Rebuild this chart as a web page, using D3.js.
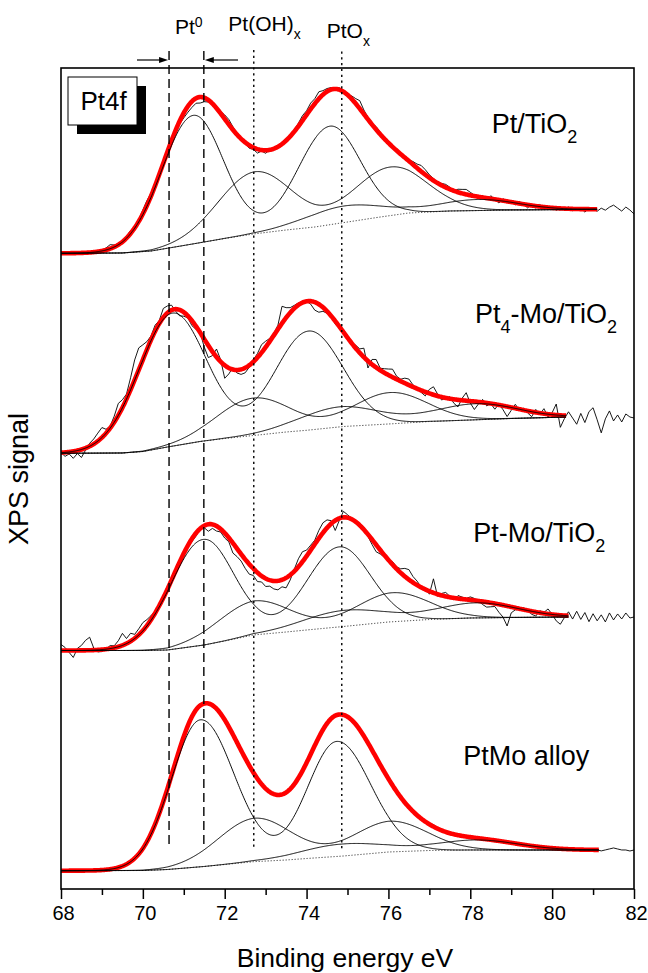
<!DOCTYPE html>
<html><head><meta charset="utf-8">
<script src="https://cdn.jsdelivr.net/npm/d3@7/dist/d3.min.js"></script>
<style>
html,body{margin:0;padding:0;background:#fff;}
svg text{font-family:Arial,"Liberation Sans",Helvetica,sans-serif;fill:#000;}
</style></head><body>
<svg id="chart" width="648" height="973"></svg>
<script>
// ---------------- data ----------------
const xTickValues = [68, 70, 72, 74, 76, 78, 80, 82];
const xMinorTicks = [69, 71, 73, 75, 77, 79, 81];
const sampleNames = ["Pt/TiO2", "Pt4-Mo/TiO2", "Pt-Mo/TiO2", "PtMo alloy"];
const componentNames = ["Pt0", "Pt(OH)x", "PtOx"];
const markerEnergies = [70.64, 71.49, 72.71, 74.86];   // eV
const markerKinds = ["dash", "dash", "dot", "dot"];
const fitEnd = [81.1, 80.35, 80.4, 81.15];             // eV, end of fitted envelope
const rawStart = 68.0, rawStep = 0.1;                   // eV, measurement grid

// Shirley-type backgrounds (energy eV, intensity a.u.)
const bgE_PtTiO2 = [68.0, 69.5, 70.2, 71.0, 71.5, 72.0, 72.7, 73.5, 74.2, 75.0, 75.8, 76.5, 77.5, 79.0, 82.0];
const bgI_PtTiO2 = [635.7, 636, 638, 643.5, 647, 650.5, 655, 659, 662, 667, 672, 676, 678, 679, 680];
const bgE_Pt4Mo = [68.0, 69.5, 70.0, 70.6, 71.4, 72.0, 72.7, 73.5, 74.0, 74.9, 76.0, 77.0, 78.0, 79.0, 80.4, 82.0];
const bgI_Pt4Mo = [435.7, 436, 437.5, 442, 447.5, 450.5, 453.5, 457, 458.7, 462.5, 465, 467.5, 469, 470.5, 472, 472];
const bgE_PtMo = [68.0, 70.0, 70.6, 71.5, 72.0, 72.7, 73.5, 74.0, 74.9, 76.0, 77.0, 78.0, 79.0, 80.4, 82.0];
const bgI_PtMo = [238.5, 238.5, 239, 244, 248, 254, 257, 259, 262.5, 267, 269.5, 271, 271.5, 272, 272];
const bgE_alloy = [68.0, 70.0, 70.6, 71.5, 72.7, 73.5, 74.0, 74.9, 76.0, 77.0, 78.0, 82.0];
const bgI_alloy = [18.3, 18.5, 19.5, 22.5, 27.3, 29, 30.5, 33, 37, 38.5, 39, 39];

// Fitted Pt4f doublets: [Pt0, Pt(OH)x, PtOx]
const center_PtTiO2 = [71.23, 72.74, 74.90], split_PtTiO2 = [3.34, 3.30, 3.30];
const h72_PtTiO2 = [128.5, 62, 16.5], h52_PtTiO2 = [98.5, 48.5, 11];
const sigL_PtTiO2 = [0.78, 0.90, 0.95], sigR_PtTiO2 = [0.74, 0.90, 0.95];

const center_Pt4Mo = [70.72, 72.70, 74.80], split_Pt4Mo = [3.33, 3.34, 3.33];
const h72_Pt4Mo = [133, 37.4, 20], h52_Pt4Mo = [99, 31.3, 16];
const sigL_Pt4Mo = [0.83, 0.90, 1.0], sigR_Pt4Mo = [0.83, 0.90, 1.0];

const center_PtMo = [71.47, 72.72, 74.90], split_PtMo = [3.33, 3.38, 3.25];
const h72_PtMo = [105.7, 34, 16], h52_PtMo = [80, 29, 15];
const sigL_PtMo = [0.80, 0.90, 1.0], sigR_PtMo = [0.76, 0.90, 1.0];

const center_alloy = [71.41, 72.74, 74.86], split_alloy = [3.33, 3.30, 3.30];
const h72_alloy = [147, 43.4, 12], h52_alloy = [115, 30.7, 10];
const sigL_alloy = [0.72, 0.90, 1.0], sigR_alloy = [0.82, 0.90, 1.0];

// raw data minus fitted envelope, 68.0 ... 82.0 eV every 0.1 eV
const resid_PtTiO2 = [
 0,0,0,1,0,0,1,0,0,1,   1,2,4,2,0,1,2,3,1,2,   4,5,3,1,0,2,1,-1,-2,-3,
 -5,-6,-6,-5,-6,-4,-2,0,1,2,   4,5,3,1,-2,-1,-3,-2,-4,-1,   -3,0,-2,1,0,1,0,2,3,5,
 4,6,5,7,4,3,2,1,2,0,   1,3,5,8,4,2,1,3,2,1,   2,0,1,0,2,1,3,4,6,5,
 3,2,1,2,3,2,0,3,4,5,   3,1,-1,2,-2,3,0,-3,2,-1,   1,-2,2,0,-3,1,-2,2,-1,0,
 1,-2,1,-1,2,-2,0,1,-3,1,   0,-2,1,-1,2,4,1,-2,2,-1,-5];
const resid_Pt4Mo = [
 0,-4,-2,-7,-3,-8,-2,3,5,8,   10,4,2,6,12,8,5,12,20,22,   15,8,4,6,3,9,7,5,-2,-6,
 -4,-2,-5,-3,0,-8,-12,-4,8,2,   -13,-6,2,-3,-5,-5,-2,2,4,8,   6,3,2,4,17,10,5,3,2,1,
 0,-3,-8,-8,-4,-2,0,-3,-2,1,   2,0,3,4,9,-7,5,8,2,4,   6,8,3,2,5,6,2,0,-2,-4,
 4,8,2,-3,0,2,-4,-7,2,8,   -2,-8,-2,3,-3,0,-5,1,-4,-10,   -3,4,-1,2,-2,-5,3,-1,5,-3,
 2,11,-12,-3,4,-2,-8,3,-6,5,   9,-3,-16,-2,6,-4,2,-5,3,0,-1];
const resid_PtMo = [
 6,3,-2,-7,2,5,10,13,2,-2,   -2,0,3,2,6,12,5,8,4,6,   8,6,4,2,1,3,2,0,-1,-2,
 -1,-2,-3,-3,0,-2,-7,-4,-5,-3,   -5,-4,-10,-8,-7,-9,-10,-7,-9,-6,   -8,-6,-8,-9,-7,-10,-5,2,8,10,
 6,5,4,8,10,8,3,-10,-2,6,   3,1,0,2,2,-2,-5,-7,-4,-2,   -1,3,2,4,8,10,6,4,0,2,
 -3,14,-2,2,4,1,-2,3,2,1,   3,2,0,-3,-5,-4,-3,-8,-12,-20,   -6,-2,-1,2,0,-3,-4,2,1,5,
 0,-6,-9,-2,4,-3,5,-3,4,-5,   3,-4,2,-5,4,-3,3,-2,4,-1,0];
const resid_alloy = [
 0,0,0,0,0,-1,0,0,0,0,   0,0,0,0,0,0,1,1,2,1,   0,0,0,0,0,0,1,0,0,0,
 0,-1,-1,0,0,-1,0,0,0,0,   0,0,0,0,0,1,0,0,0,-1,   0,0,-1,0,0,0,0,0,0,0,
 0,0,0,0,0,1,1,1,0,-1,   0,0,0,0,1,0,0,0,1,0,   0,0,0,0,0,0,0,0,0,0,
 1,2,1,0,0,0,0,0,0,0,   1,0,1,0,1,0,0,1,0,0,   0,0,0,0,0,0,0,0,0,0,
 0,0,0,0,0,0,0,0,0,0,   0,0,-1,0,1,2,1,0,0,-1,0];

// ---------------- assemble ----------------
const spectra = [
 {bgE:bgE_PtTiO2, bgI:bgI_PtTiO2, c:center_PtTiO2, sp:split_PtTiO2, h1:h72_PtTiO2, h2:h52_PtTiO2, sl:sigL_PtTiO2, sr:sigR_PtTiO2, res:resid_PtTiO2, end:fitEnd[0]},
 {bgE:bgE_Pt4Mo, bgI:bgI_Pt4Mo, c:center_Pt4Mo, sp:split_Pt4Mo, h1:h72_Pt4Mo, h2:h52_Pt4Mo, sl:sigL_Pt4Mo, sr:sigR_Pt4Mo, res:resid_Pt4Mo, end:fitEnd[1]},
 {bgE:bgE_PtMo, bgI:bgI_PtMo, c:center_PtMo, sp:split_PtMo, h1:h72_PtMo, h2:h52_PtMo, sl:sigL_PtMo, sr:sigR_PtMo, res:resid_PtMo, end:fitEnd[2]},
 {bgE:bgE_alloy, bgI:bgI_alloy, c:center_alloy, sp:split_alloy, h1:h72_alloy, h2:h52_alloy, sl:sigL_alloy, sr:sigR_alloy, res:resid_alloy, end:fitEnd[3]}
];

const svg = d3.select("#chart");
const L = 61, R = 634, T = 68, B = 889;
const x = d3.scaleLinear().domain([68, 82]).range([L, R]);
const y = d3.scaleLinear().domain([0, 821]).range([B, T]);

function peak(e, c, h, sl, sr) { const s = e < c ? sl : sr; return h * Math.exp(-(e - c) * (e - c) / (2 * s * s)); }
function comp(s, k, e) { return peak(e, s.c[k], s.h1[k], s.sl[k], s.sr[k]) + peak(e, s.c[k] + s.sp[k], s.h2[k], s.sl[k], s.sr[k]); }

const line = d3.line().x(d => x(d[0])).y(d => y(d[1]));
const plot = svg.append("g");

spectra.forEach(s => {
  const bg = d3.scaleLinear().domain(s.bgE).range(s.bgI).clamp(true);
  const total = e => bg(e) + componentNames.reduce((a, _, k) => a + comp(s, k, e), 0);
  const grid = d3.range(68, s.end + 1e-6, 0.02);
  // raw data
  const raw = s.res.map((r, i) => { const e = rawStart + i * rawStep; return [e, total(e) + r]; });
  plot.append("path").attr("d", line(raw)).attr("fill", "none").attr("stroke", "#000").attr("stroke-width", 0.9);
  // background (dotted)
  plot.append("path").attr("d", line(grid.map(e => [e, bg(e)]))).attr("fill", "none")
      .attr("stroke", "#222").attr("stroke-width", 0.9).attr("stroke-dasharray", "1.2,1.8");
  // envelope
  plot.append("path").attr("d", line(grid.map(e => [e, total(e)]))).attr("fill", "none")
      .attr("stroke", "#ff0000").attr("stroke-width", 4.6).attr("stroke-linejoin", "round").attr("stroke-linecap", "butt");
  // components
  componentNames.forEach((_, k) => {
    plot.append("path").attr("d", line(grid.map(e => [e, bg(e) + comp(s, k, e)]))).attr("fill", "none")
        .attr("stroke", "#000").attr("stroke-width", 0.95);
  });
});

// marker lines
const markerTop = [51, 51, 50, 51.5], markerBottom = [845, 847, 848.5, 850];
markerEnergies.forEach((e, i) => {
  svg.append("line").attr("x1", x(e)).attr("x2", x(e)).attr("y1", markerTop[i]).attr("y2", markerBottom[i])
     .attr("stroke", "#000").attr("stroke-width", 1.4)
     .attr("stroke-dasharray", markerKinds[i] === "dash" ? "9,5" : "2.2,3.6");
});

// arrows
function arrow(x1, x2, yy) {
  const dir = Math.sign(x2 - x1);
  svg.append("line").attr("x1", x1).attr("x2", x2 - dir * 7).attr("y1", yy).attr("y2", yy).attr("stroke", "#000").attr("stroke-width", 1.2);
  svg.append("path").attr("d", `M${x2},${yy}L${x2 - dir * 9},${yy - 3}L${x2 - dir * 9},${yy + 3}Z`).attr("fill", "#000");
}
arrow(137, x(markerEnergies[0]) - 1, 60);
arrow(238, x(markerEnergies[1]) + 1, 60);

// frame
svg.append("rect").attr("x", L).attr("y", T).attr("width", R - L).attr("height", B - T)
   .attr("fill", "none").attr("stroke", "#000").attr("stroke-width", 1.6);

// x axis
const ax = svg.append("g").attr("transform", `translate(0,${B})`)
  .call(d3.axisBottom(x).tickValues(xTickValues).tickSize(10).tickPadding(7).tickFormat(d3.format("d")));
ax.select(".domain").remove();
ax.selectAll(".tick line").attr("stroke", "#000").attr("stroke-width", 1.5);
ax.selectAll(".tick text").attr("font-size", 20).attr("font-family", "Arial, 'Liberation Sans', sans-serif").attr("dx", 2);
const axm = svg.append("g").attr("transform", `translate(0,${B})`)
  .call(d3.axisBottom(x).tickValues(xMinorTicks).tickSize(6).tickFormat(""));
axm.select(".domain").remove();
axm.selectAll(".tick line").attr("stroke", "#000").attr("stroke-width", 1.5);

svg.append("text").attr("x", 345).attr("y", 967).attr("text-anchor", "middle").attr("font-size", 26.5).text("Binding energy eV");
svg.append("text").attr("transform", "translate(28,479) rotate(-90)").attr("text-anchor", "middle").attr("font-size", 27).text("XPS signal");

// rich text helper
function rich(xx, yy, parts, size, smallSize, shift) {
  const t = svg.append("text").attr("x", xx).attr("y", yy).attr("font-size", size);
  let cur = 0;
  parts.forEach(p => {
    const target = p.sub ? shift : (p.sup ? -shift : 0);
    t.append("tspan").attr("dy", target - cur).attr("font-size", (p.sub || p.sup) ? smallSize : size).text(p.t);
    cur = target;
  });
  return t;
}

// Sample labels
rich(491.7, 133.3, [{t:"Pt/TiO"},{t:"2",sub:true}], 27, 18, 10);
rich(475, 323.3, [{t:"Pt"},{t:"4",sub:true},{t:"-Mo/TiO"},{t:"2",sub:true}], 27, 18, 10);
rich(473.3, 541.7, [{t:"Pt-Mo/TiO"},{t:"2",sub:true}], 27, 18, 10);
rich(463.3, 765, [{t:sampleNames[3]}], 27, 18, 10);

// Top state labels
rich(175, 34.3, [{t:"Pt"},{t:"0",sup:true}], 21, 14, 7);
rich(228.3, 31, [{t:"Pt(OH)"},{t:"x",sub:true}], 21, 14, 8);
rich(326.7, 38.3, [{t:"PtO"},{t:"x",sub:true}], 21, 14, 8);

// Pt4f box
svg.append("rect").attr("x", 77).attr("y", 86).attr("width", 69).attr("height", 48).attr("fill", "#000");
svg.append("rect").attr("x", 68).attr("y", 77).attr("width", 69).attr("height", 48).attr("fill", "#fff").attr("stroke", "#000").attr("stroke-width", 1);
svg.append("text").attr("x", 103.5).attr("y", 110).attr("text-anchor", "middle").attr("font-size", 26).text("Pt4f");
</script>
</body></html>
